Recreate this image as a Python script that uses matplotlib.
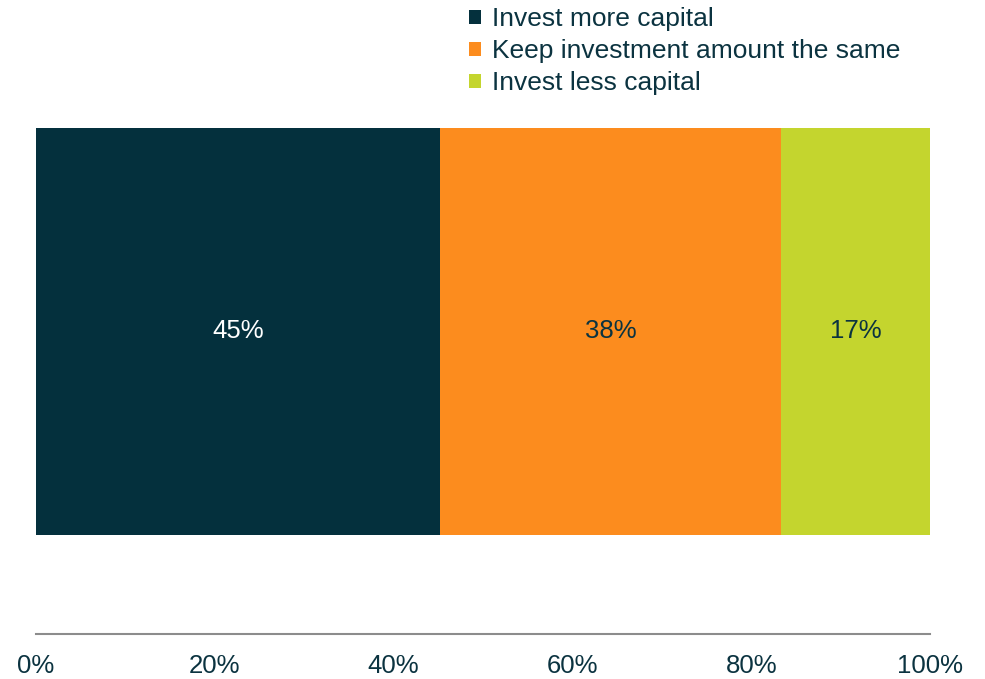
import matplotlib
matplotlib.use("Agg")
import matplotlib.pyplot as plt
from matplotlib.patches import Patch

categories = ["Invest more capital", "Keep investment amount the same", "Invest less capital"]
values = [45.2, 38.1, 16.7]
colors = ["#04303D", "#FC8C1E", "#C4D52E"]
label_colors = ["white", "#0B3340", "#0B3340"]
tick_labels = ["0%", "20%", "40%", "60%", "80%", "100%"]
text_color = "#0B3340"

plt.rcParams['font.family'] = ['Liberation Sans', 'DejaVu Sans']

fig = plt.figure(figsize=(9.85, 6.79), dpi=100)
W, H = 985, 679
ax_left, ax_right, ax_top, ax_bottom = 36, 930, 128, 634
ax = fig.add_axes([ax_left / W, 1 - ax_bottom / H, (ax_right - ax_left) / W, (ax_bottom - ax_top) / H])

left = 0
for cat, v, c, lc in zip(categories, values, colors, label_colors):
    ax.barh(0, v, left=left, height=1.0, color=c, label=cat)
    ax.text(left + v / 2, 0, f"{v:.0f}%", ha="center", va="center", fontsize=18.5, color=lc)
    left += v

ax.set_xlim(0, 100)
ax.set_ylim(-0.5 - 99 / 407, 0.5)
ax.set_yticks([])
ax.set_xticks([0, 20, 40, 60, 80, 100])
ax.set_xticklabels(tick_labels, fontsize=18.5, color=text_color)
ax.tick_params(axis="x", length=0, pad=14.5)
for s in ["top", "right", "left"]:
    ax.spines[s].set_visible(False)
ax.spines["bottom"].set_color("#8C8C8C")
ax.spines["bottom"].set_linewidth(1.5)

handles = [Patch(facecolor=c, edgecolor="none") for c in colors]
leg = fig.legend(handles, categories, loc="upper left", bbox_to_anchor=(451 / W, 1 + 11 / H),
                 frameon=False, fontsize=19, handlelength=0.45, handleheight=0.45,
                 handletextpad=0.4, labelspacing=0.3, borderpad=0.2)
for t in leg.get_texts():
    t.set_color(text_color)

fig.savefig("out.png", dpi=100)
